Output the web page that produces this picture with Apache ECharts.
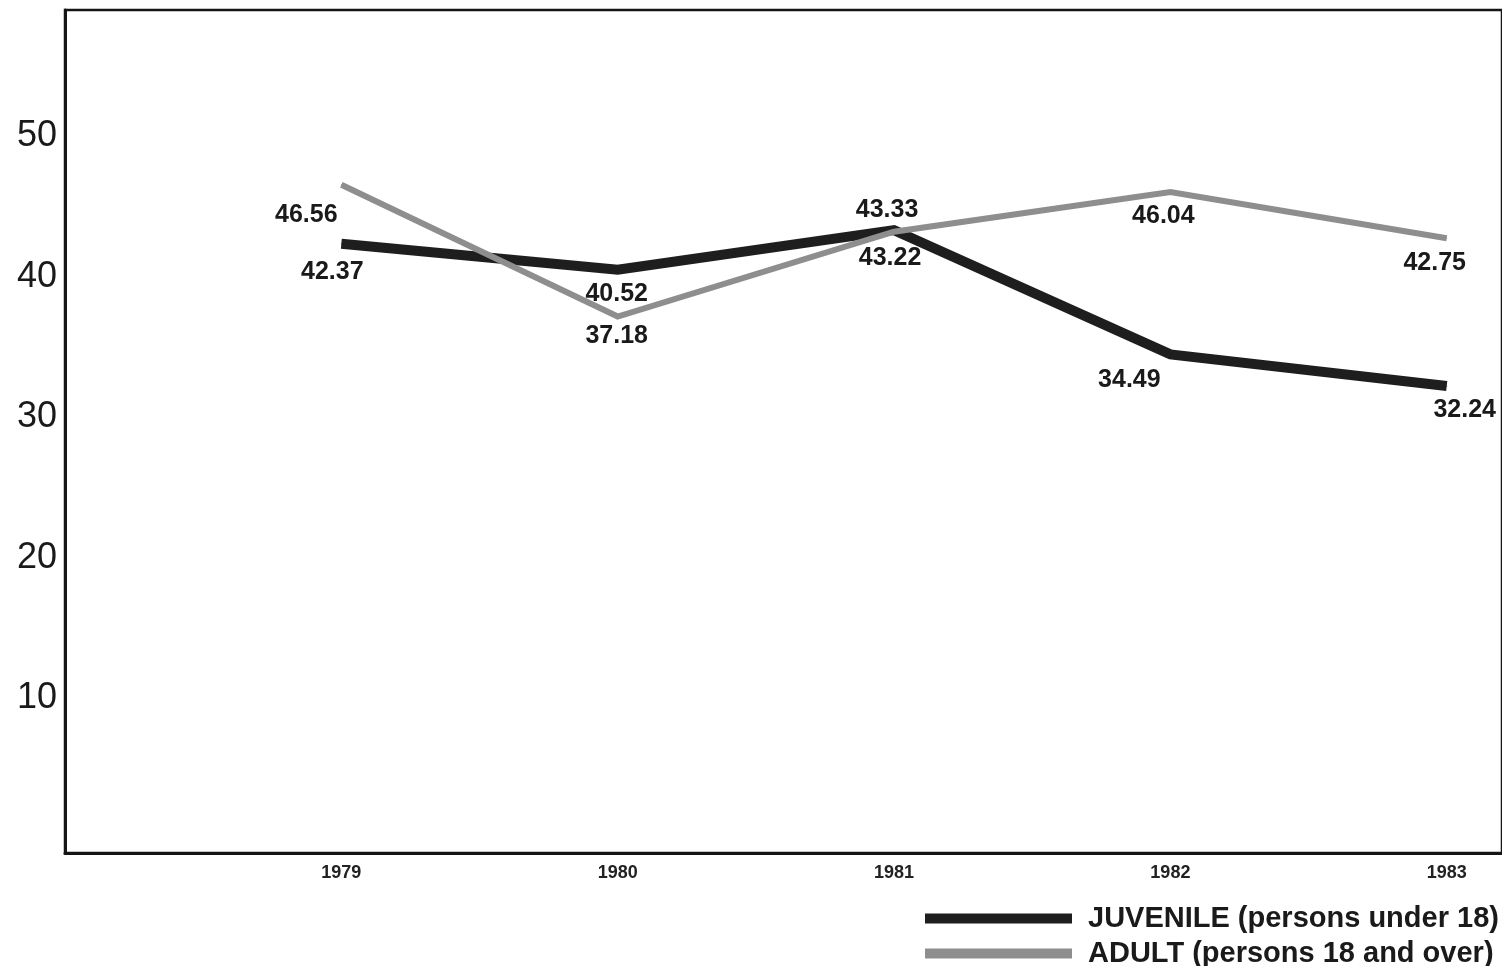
<!DOCTYPE html>
<html>
<head>
<meta charset="utf-8">
<script src="https://cdn.jsdelivr.net/npm/echarts@6/dist/echarts.min.js"></script>
<style>
  html, body { margin: 0; padding: 0; background: #fff; }
  #chart { width: 1502px; height: 966px; }
</style>
</head>
<body>
<div id="chart"></div>
<script>
// data
var years = [1979, 1980, 1981, 1982, 1983];
var juvenile = [42.37, 40.52, 43.33, 34.49, 32.24];
var adult = [46.56, 37.18, 43.22, 46.04, 42.75];
var yTicks = [10, 20, 30, 40, 50];
var names = ['JUVENILE (persons under 18)', 'ADULT (persons 18 and over)'];

// where each value label sits relative to its point
var juvOffsets = [[-9, 28], [-1, 24], [-7, -20], [-41, 26], [18, 24]];
var adultOffsets = [[-35, 30], [-1, 20], [-4, 26], [-7, 24], [-12, 25]];

function points(values, offsets) {
    var out = [];
    for (var i = 0; i < values.length; i++) {
        out.push({
            value: [years[i], values[i]],
            label: { offset: offsets[i] }
        });
    }
    return out;
}

function legendRow(name, top) {
    return {
        orient: 'horizontal',
        left: 920,
        top: top,
        icon: 'rect',
        itemWidth: 147,
        itemHeight: 10,
        textStyle: {
            color: '#1a1a1a',
            fontFamily: 'Liberation Sans, Arial, sans-serif',
            fontSize: 29,
            fontWeight: 'bold',
            padding: [0, 0, 0, 11]
        },
        data: [name]
    };
}

var myChart = echarts.init(document.getElementById('chart'));

var labelStyle = {
    show: true,
    position: 'inside',
    color: '#1a1a1a',
    fontFamily: 'Liberation Sans, Arial, sans-serif',
    fontSize: 25,
    fontWeight: 'bold',
    formatter: function (p) { return p.value[1].toFixed(2); }
};

option = {
    animation: false,
    backgroundColor: '#fff',
    grid: {
        left: 65,
        right: -5,
        top: 10,
        bottom: 113,
        show: true,
        borderColor: '#151515',
        borderWidth: 2.5
    },
    legend: [legendRow(names[0], 899), legendRow(names[1], 934)],
    xAxis: {
        type: 'value',
        min: 1978,
        max: 1983.2,
        interval: 1,
        splitLine: { show: false },
        axisTick: { show: false },
        axisLine: { show: true, onZero: false, lineStyle: { color: '#151515', width: 3 } },
        axisLabel: {
            margin: 11,
            color: '#222',
            fontFamily: 'Liberation Sans, Arial, sans-serif',
            fontSize: 18,
            fontWeight: 'bold',
            showMaxLabel: false,
            formatter: function (v) {
                return years.indexOf(v) >= 0 ? String(v) : '';
            }
        }
    },
    yAxis: {
        type: 'value',
        min: -1,
        max: 59,
        interval: 1,
        splitLine: { show: false },
        axisTick: { show: false },
        axisLine: { show: true, lineStyle: { color: '#151515', width: 3 } },
        axisLabel: {
            margin: 8,
            color: '#1a1a1a',
            fontFamily: 'Liberation Sans, Arial, sans-serif',
            fontSize: 36,
            formatter: function (v) {
                return yTicks.indexOf(v) >= 0 ? String(v) : '';
            }
        }
    },
    series: [
        {
            name: names[0],
            type: 'line',
            color: '#1e1e1e',
            symbol: 'circle',
            symbolSize: 1,
            showSymbol: true,
            lineStyle: { width: 10, color: '#1e1e1e', join: 'miter', cap: 'butt' },
            label: labelStyle,
            data: points(juvenile, juvOffsets),
            z: 2
        },
        {
            name: names[1],
            type: 'line',
            color: '#8e8e8e',
            symbol: 'circle',
            symbolSize: 1,
            showSymbol: true,
            lineStyle: { width: 6, color: '#8e8e8e', join: 'miter', cap: 'butt' },
            label: labelStyle,
            data: points(adult, adultOffsets),
            z: 3
        }
    ]
};
myChart.setOption(option);
</script>
</body>
</html>
